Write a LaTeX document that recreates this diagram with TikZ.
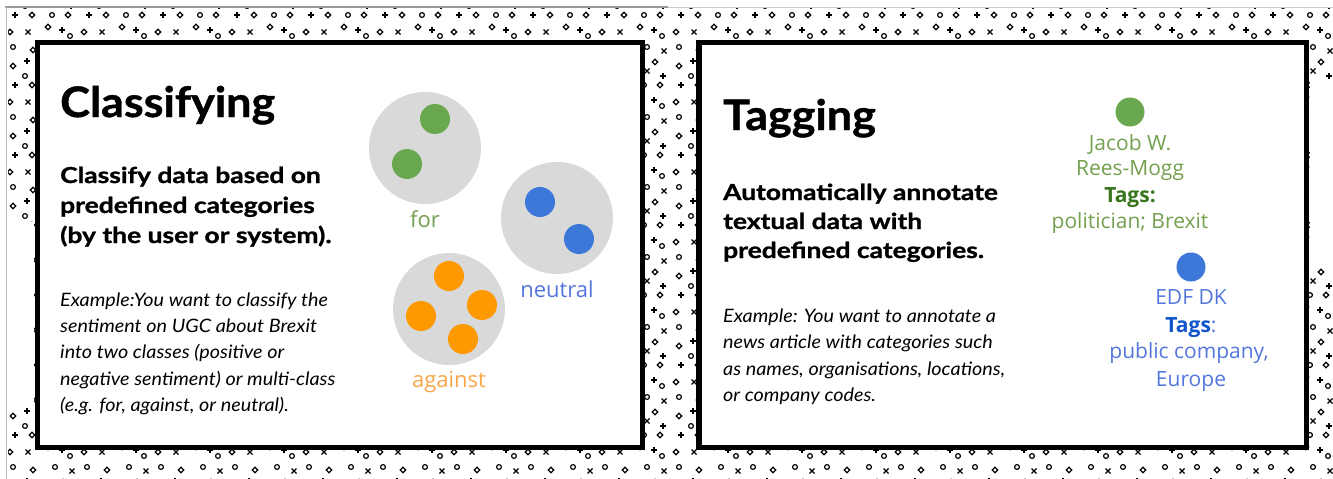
\documentclass[tikz,border=0pt]{standalone}
\usepackage{fontspec}
\newfontfamily\ttlfont[FakeStretch=1.07,FakeBold=1]{Lato}
\newfontfamily\subfont[FakeStretch=1.2,FakeBold=1.2]{Lato}
\newfontfamily\exfont[FakeStretch=1.07]{Lato}
\newfontfamily\osans{Open Sans}
\definecolor{dotgreen}{HTML}{6AA84F}
\definecolor{txtgreen}{HTML}{74A050}
\definecolor{tagsgreen}{HTML}{38761D}
\definecolor{dotblue}{HTML}{3C78D8}
\definecolor{txtblue}{HTML}{5577DD}
\definecolor{tagsblue}{HTML}{1155CC}
\definecolor{dotorange}{HTML}{FF9900}
\definecolor{txtorange}{HTML}{F9A64A}
\definecolor{grpgray}{HTML}{D9D9D9}
\tikzset{
  sym/.style={line width=1.2pt, black},
  panel/.style={draw=black, fill=white, line width=5.5pt, rectangle, inner sep=0pt},
  grp/.style={circle, fill=grpgray, inner sep=0pt, minimum size=112pt},
  dot/.style={circle, inner sep=0pt, minimum size=30pt},
  tagdot/.style={circle, inner sep=0pt, minimum size=29pt},
  ttl/.style={font=\ttlfont\bfseries\fontsize{42}{42}\selectfont, anchor=base west, inner sep=0pt},
  sub/.style={font=\subfont\bfseries\fontsize{22}{22}\selectfont, anchor=base west, inner sep=0pt},
  ex/.style={font=\exfont\itshape\fontsize{18.5}{18.5}\selectfont, anchor=base west, inner sep=0pt},
  lab/.style={font=\osans\fontsize{22}{22}\selectfont, anchor=base, inner sep=0pt},
  tlab/.style={font=\osans\fontsize{21}{21}\selectfont, anchor=base, inner sep=0pt},
}
\begin{document}
\begin{tikzpicture}[x=1pt,y=-1pt]
\useasboundingbox (0,0) rectangle (1333,479);
% background pattern
\begin{scope}
\clip (8,8) rectangle (1333,479);
\foreach \tx in {0,74,...,1332} {
  \foreach \ty in {-70,0,...,480} {
    \draw[sym] \foreach \a/\b in {15/15, 62/30, 27/61, 71/76} {
      (\tx+\a-3,\ty+\b) -- (\tx+\a+3,\ty+\b) (\tx+\a,\ty+\b-3) -- (\tx+\a,\ty+\b+3)};
    \draw[sym] \foreach \a/\b in {28/32, 72/51, 45/66, 55/71} {
      (\tx+\a-2.5,\ty+\b-2.5) -- (\tx+\a+2.5,\ty+\b+2.5) (\tx+\a-2.5,\ty+\b+2.5) -- (\tx+\a+2.5,\ty+\b-2.5)};
    \draw[sym] \foreach \a/\b in {32/15, 68/15, 10/32, 48/27, 33/50, 13/66, 63/62} {
      (\tx+\a-2.8,\ty+\b) -- (\tx+\a,\ty+\b-2.8) -- (\tx+\a+2.8,\ty+\b) -- (\tx+\a,\ty+\b+2.8) -- cycle};
    \draw[sym] \foreach \a/\b in {52/15, 70/36, 13/47, 55/47, 25/76} {
      (\tx+\a,\ty+\b) circle[radius=2.4]};
  }
}
\end{scope}
\fill[white] (8,222) rectangle (34,408);
\fill[white] (1310,80) rectangle (1333,268);
% frame lines
\draw[black!40, line width=2pt] (5,7) -- (668,7);
\draw[black!20, line width=1pt] (668,7) -- (1333,7);
\draw[black!25, line width=1pt] (6.5,7) -- (6.5,479);
% panels
\node[panel, minimum width=605pt, minimum height=405pt] (lp) at (340,245) {};
\node[panel, minimum width=607.5pt, minimum height=405pt] (rp) at (1002.75,245) {};
% left panel text
\node[ttl] (t1) at (60,117) {Classifying};
\node[sub] (s1) at (60,183) {Classify data based on};
\node[sub] (s2) at (60,213) {predefined categories};
\node[sub] (s3) at (60,243) {(by the user or system).};
\node[ex] (e1) at (60,306) {Example:You want to classify the};
\node[ex] (e2) at (60,332) {sentiment on UGC about Brexit};
\node[ex] (e3) at (60,358) {into two classes (positive or};
\node[ex] (e4) at (60,385) {negative sentiment) or multi-class};
\node[ex] (e5) at (60,411) {(e.g. for, against, or neutral).};
% groups
\node[grp] (gfor) at (425,148) {};
\node[dot, fill=dotgreen] (f1) at (435,119) {};
\node[dot, fill=dotgreen] (f2) at (407,164) {};
\node[lab, text=txtgreen] (lfor) at (425,227) {for};
\node[grp] (gneu) at (557,218) {};
\node[dot, fill=dotblue] (n1) at (540,202) {};
\node[dot, fill=dotblue] (n2) at (579,239) {};
\node[lab, text=txtblue] (lneu) at (557,297) {neutral};
\node[grp] (gaga) at (449,309) {};
\node[dot, fill=dotorange] (a1) at (449,276) {};
\node[dot, fill=dotorange] (a2) at (421,316) {};
\node[dot, fill=dotorange] (a3) at (482,305) {};
\node[dot, fill=dotorange] (a4) at (463,339) {};
\node[lab, text=txtorange] (laga) at (449,387) {against};
% right panel text
\node[ttl] (t2) at (723,130) {Tagging};
\node[sub] (r1) at (723,200) {Automatically annotate};
\node[sub] (r2) at (723,229) {textual data with};
\node[sub] (r3) at (723,258) {predefined categories.};
\node[ex] (x1) at (723,322) {Example: You want to annotate a};
\node[ex] (x2) at (723,348) {news article with categories such};
\node[ex] (x3) at (723,375) {as names, organisations, locations,};
\node[ex] (x4) at (723,401) {or company codes.};
% tags
\node[tagdot, fill=dotgreen] (gd) at (1130,112) {};
\node[tlab, text=txtgreen] (j1) at (1130,150) {Jacob W.};
\node[tlab, text=txtgreen] (j2) at (1130,175) {Rees-Mogg};
\node[tlab, text=tagsgreen, font=\osans\bfseries\fontsize{21}{21}\selectfont] (j3) at (1130,202) {Tags:};
\node[tlab, text=txtgreen] (j4) at (1130,228) {politician; Brexit};
\node[tagdot, fill=dotblue] (bd) at (1191,267) {};
\node[tlab, text=txtblue] (b1) at (1191,304) {EDF DK};
\node[tlab, text=txtblue] (b2) at (1191,332) {\textcolor{tagsblue}{\bfseries Tags}:};
\node[tlab, text=txtblue] (b3) at (1189,358) {public company,};
\node[tlab, text=txtblue] (b4) at (1191,386) {Europe};
\end{tikzpicture}
\end{document}
